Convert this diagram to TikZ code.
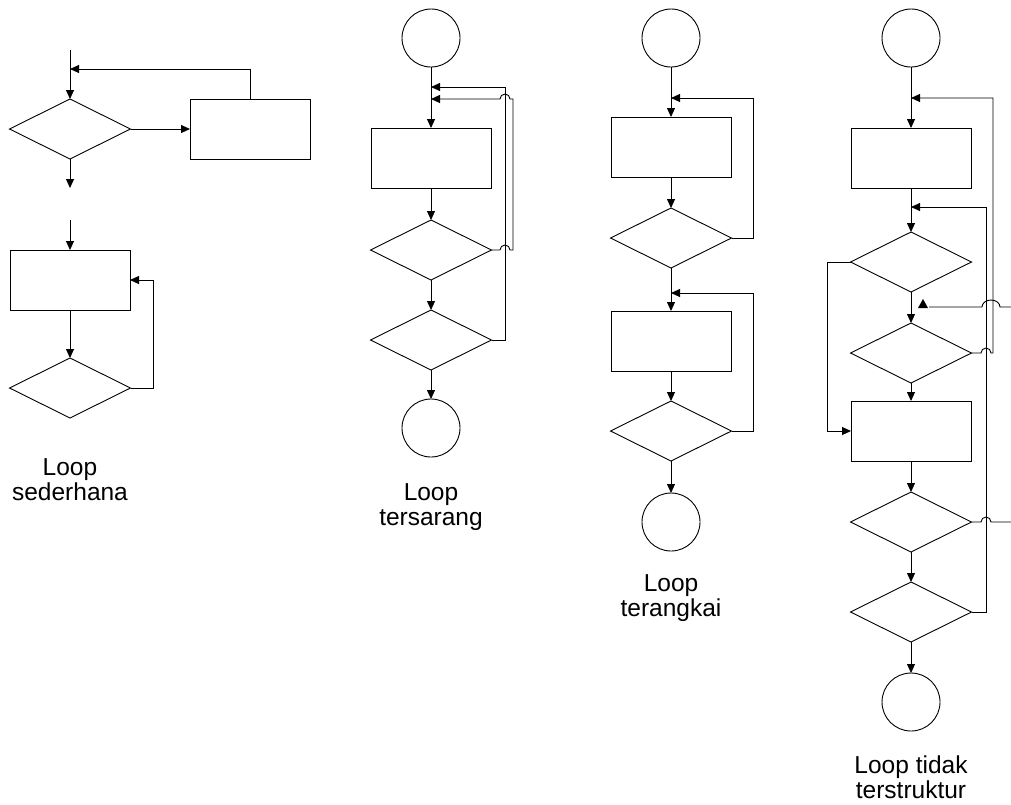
\documentclass[tikz,border=0pt]{standalone}
\usepackage{fontspec}
\setmainfont{Liberation Sans}
\usetikzlibrary{shapes.geometric,arrows.meta}

\begin{document}
\begin{tikzpicture}[x=1pt,y=-1pt,line width=0.9pt,
  >={Triangle[length=9pt,width=8pt]},
  proses/.style={draw,rectangle,minimum width=120pt,minimum height=60pt,inner sep=0pt,outer sep=0pt},
  kondisi/.style={draw,diamond,minimum width=121pt,minimum height=60pt,inner sep=0pt,outer sep=0pt},
  terminal/.style={draw,circle,minimum size=58pt,inner sep=0pt,outer sep=0pt},
  keterangan/.style={align=center,anchor=base,font=\fontsize{24.5}{25}\selectfont}]
\useasboundingbox (0,0) rectangle (1011,804);
% loop sederhana
\coordinate (a0) at (70,50);
\node[kondisi] (a1) at (70,129) {};
\node[proses] (a2) at (250,129) {};
\coordinate (a3) at (70,188);
\coordinate (a4) at (70,69);
\draw[->] (a0) -- (a1.north);
\draw[->] (a1.east) -- (a2.west);
\draw[->] (a1.south) -- (a3);
\draw[->] (a2.north) |- (a4);
\coordinate (b0) at (70,220);
\node[proses] (b1) at (70,280) {};
\node[kondisi] (b2) at (70,388) {};
\draw[->] (b0) -- (b1.north);
\draw[->] (b1.south) -- (b2.north);
\draw[->] (b2.east) -- ++(23,0) |- (b1.east);
\node[keterangan] (t1) at (70,500) {Loop\\sederhana};
% loop tersarang
\node[terminal] (c0) at (431,38) {};
\node[proses] (c1) at (431,158) {};
\node[kondisi] (c2) at (431,250) {};
\node[kondisi] (c3) at (431,340) {};
\node[terminal] (c4) at (431,428) {};
\coordinate (c5) at (431,87);
\coordinate (c6) at (431,99);
\draw[->] (c0.south) -- (c1.north);
\draw[->] (c1.south) -- (c2.north);
\draw[->] (c2.south) -- (c3.north);
\draw[->] (c3.south) -- (c4.north);
\draw[->] (c3.east) -- ++(14,0) |- (c5);
\draw[->] (c2.east) -- ++(8.5,0) arc[start angle=180,end angle=0,radius=5pt]
  -- ++(3,0) -- ++(0,-151) -- ++(-3,0) arc[start angle=0,end angle=180,radius=5pt] -- (c6);
\node[keterangan] (t2) at (431,525) {Loop\\tersarang};
% loop terangkai
\node[terminal] (d0) at (671,38) {};
\node[proses] (d1) at (671,147) {};
\node[kondisi] (d2) at (671,238) {};
\node[proses] (d3) at (671,341) {};
\node[kondisi] (d4) at (671,431) {};
\node[terminal] (d5) at (671,522) {};
\coordinate (d6) at (671,98);
\coordinate (d7) at (671,293);
\draw[->] (d0.south) -- (d1.north);
\draw[->] (d1.south) -- (d2.north);
\draw[->] (d2.south) -- (d3.north);
\draw[->] (d3.south) -- (d4.north);
\draw[->] (d4.south) -- (d5.north);
\draw[->] (d2.east) -- ++(21.5,0) |- (d6);
\draw[->] (d4.east) -- ++(21.5,0) |- (d7);
\node[keterangan] (t3) at (671,616) {Loop\\terangkai};
% loop tidak terstruktur
\node[terminal] (e0) at (911,38) {};
\node[proses] (e1) at (911,158) {};
\node[kondisi] (e2) at (911,262) {};
\node[kondisi] (e3) at (911,353) {};
\node[proses] (e4) at (911,431) {};
\node[kondisi] (e5) at (911,522) {};
\node[kondisi] (e6) at (911,612) {};
\node[terminal] (e7) at (911,702) {};
\coordinate (e8) at (911,98);
\coordinate (e9) at (911,207);
\coordinate (e10) at (1011,522);
\coordinate (e11) at (1011,307);
\coordinate (e12) at (929,307);
\draw[->] (e0.south) -- (e1.north);
\draw[->] (e1.south) -- (e2.north);
\draw[->] (e2.south) -- (e3.north);
\draw[->] (e3.south) -- (e4.north);
\draw[->] (e4.south) -- (e5.north);
\draw[->] (e5.south) -- (e6.north);
\draw[->] (e6.south) -- (e7.north);
\draw[->] (e3.east) -- ++(9.5,0) arc[start angle=180,end angle=0,radius=5pt] -- ++(2,0) |- (e8);
\draw[->] (e6.east) -- ++(14.5,0) |- (e9);
\draw[->] (e2.west) -- ++(-23,0) |- (e4.west);
\draw (e5.east) -- ++(9.5,0) arc[start angle=180,end angle=0,radius=5pt] -- (e10);
\draw (e11) -- ++(-11,0) arc[start angle=0,end angle=180,x radius=9pt,y radius=7pt] -- (e12);
\fill (e12) ++(-1,1) -- ++(-10,0) -- ++(5,-9) -- cycle;
\node[keterangan] (t4) at (911,798) {Loop tidak\\terstruktur};
\end{tikzpicture}
\end{document}
